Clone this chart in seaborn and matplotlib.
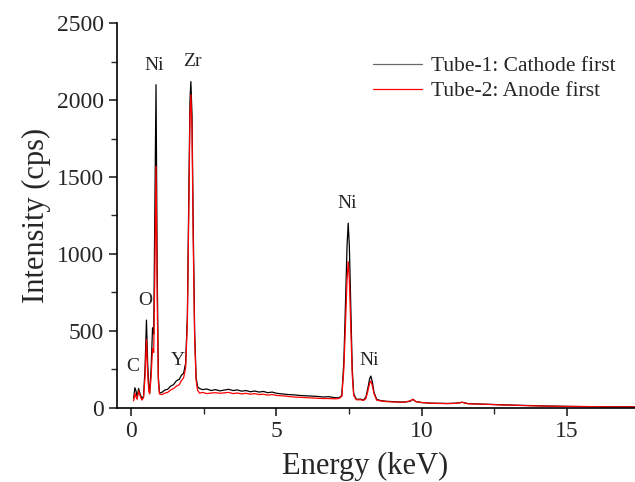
from matplotlib import pyplot as plt
import seaborn as sns
import pandas as pd

# Spectrum values
energy = [0.08, 0.12, 0.16, 0.20, 0.25, 0.30, 0.36, 0.42, 0.47, 0.52, 0.56, 0.60,
          0.63, 0.68, 0.73, 0.77, 0.81, 0.85, 0.89, 0.93, 0.97, 1.05, 1.15, 1.25,
          1.35, 1.45, 1.55, 1.65, 1.72, 1.80, 1.87, 1.93, 1.98, 2.02, 2.05, 2.09,
          2.13, 2.18, 2.23, 2.28, 2.35, 2.45, 2.60, 2.75, 2.90, 3.05, 3.20, 3.35,
          3.50, 3.65, 3.80, 3.95, 4.10, 4.25, 4.40, 4.55, 4.70, 4.85, 5.00, 5.20,
          5.40, 5.60, 5.80, 6.00, 6.20, 6.40, 6.60, 6.80, 7.00, 7.15, 7.25, 7.32,
          7.38, 7.43, 7.47, 7.51, 7.56, 7.61, 7.66, 7.75, 7.90, 8.00, 8.08, 8.15,
          8.21, 8.25, 8.30, 8.36, 8.45, 8.60, 8.80, 9.00, 9.20, 9.40, 9.60, 9.70,
          9.80, 10.0, 10.3, 10.6, 10.9, 11.2, 11.4, 11.6, 12.0, 12.4, 12.8, 13.2,
          13.6, 14.0, 14.5, 15.0, 15.5, 16.0, 16.5, 17.0, 17.35]

tube1 = [60, 130, 110, 70, 125, 90, 60, 75, 250, 570, 300, 130,
         98, 250, 520, 480, 1300, 2100, 900, 200, 95, 100, 115, 120,
         140, 150, 175, 185, 210, 225, 290, 600, 1400, 2000, 2120, 1900,
         1200, 500, 200, 137, 125, 118, 122, 112, 118, 110, 115, 120,
         112, 116, 108, 112, 104, 109, 102, 106, 98, 102, 94, 90,
         86, 84, 80, 78, 76, 74, 70, 72, 66, 64, 80, 300,
         700, 1050, 1200, 1050, 650, 250, 90, 55, 56, 50, 70, 130,
         190, 206, 170, 100, 55, 46, 42, 40, 38, 37, 42, 55,
         40, 34, 30, 29, 28, 30, 36, 27, 24, 22, 19, 17,
         15, 13, 11, 9, 8, 7, 6, 6, 5]

tube2 = [45, 95, 70, 55, 110, 80, 50, 65, 200, 445, 230, 110,
         90, 200, 385, 360, 900, 1570, 700, 170, 90, 85, 95, 100,
         115, 125, 140, 150, 175, 195, 260, 560, 1300, 1900, 2035, 1800,
         1100, 450, 180, 115, 95, 100, 92, 96, 98, 94, 97, 100,
         92, 96, 90, 94, 88, 92, 86, 88, 82, 86, 80, 78,
         74, 70, 68, 66, 64, 62, 60, 60, 58, 60, 75, 250,
         560, 830, 950, 830, 520, 210, 80, 52, 52, 48, 60, 110,
         160, 174, 145, 90, 50, 44, 40, 38, 37, 36, 45, 55,
         40, 34, 30, 28, 27, 29, 35, 26, 24, 21, 18, 16,
         14, 12, 10, 9, 8, 7, 6, 6, 5]

series_names = ["Tube-1: Cathode first", "Tube-2: Anode first"]
peak_labels = ["C", "O", "Ni", "Zr", "Y", "Ni", "Ni"]
label_x = [0.06, 0.48, 0.77, 2.09, 1.60, 7.42, 8.19]
label_y = [267, 700, 2222, 2250, 306, 1325, 310]

df = pd.concat([
    pd.DataFrame({"Energy": energy, "Intensity": tube1, "Sample": series_names[0]}),
    pd.DataFrame({"Energy": energy, "Intensity": tube2, "Sample": series_names[1]}),
])

sns.set_style("ticks")
plt.rcParams['font.family'] = ['Liberation Serif', 'DejaVu Serif']

fig = plt.figure(figsize=(6.35, 4.82), dpi=100)
ax = fig.add_axes([0.184, 0.154, 0.816, 0.798])

sns.lineplot(data=df, x="Energy", y="Intensity", hue="Sample",
             palette=["black", "red"], linewidth=0.9, ax=ax, sort=False)

for t, x, y in zip(peak_labels, label_x, label_y):
    ax.text(x, y, t, ha="center", va="center", fontsize=14)

ax.set_xlim(-0.5, 17.35)
ax.set_ylim(0, 2500)
ax.set_xticks([0, 5, 10, 15])
ax.set_xticks([2.5, 7.5, 12.5], minor=True)
ax.set_yticks([0, 500, 1000, 1500, 2000, 2500])
ax.set_yticks([250, 750, 1250, 1750, 2250], minor=True)
ax.tick_params(which="major", length=6, width=1.2, labelsize=17, direction="out")
ax.tick_params(which="minor", length=4, width=1.0, direction="out")
sns.despine(ax=ax)
for s in ["left", "bottom"]:
    ax.spines[s].set_linewidth(1.2)
    ax.spines[s].set_color("black")

ax.set_xlabel("Energy (keV)", fontsize=22)
ax.set_ylabel("Intensity (cps)", fontsize=22, labelpad=4)
ax.xaxis.set_label_coords(0.48, -0.115)

leg = ax.legend(loc="upper right", frameon=False, fontsize=15.5,
                handlelength=2.3, handletextpad=0.4, labelspacing=0.25,
                bbox_to_anchor=(1.0, 0.965))
leg.get_lines()[0].set_color("dimgray")

fig.savefig("out.png", dpi=100)
